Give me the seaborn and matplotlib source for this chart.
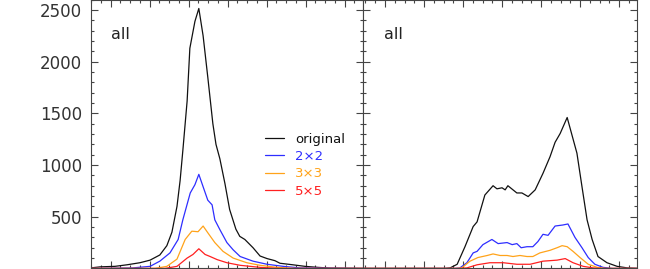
import numpy as np
import pandas as pd
import matplotlib
matplotlib.use("Agg")
import matplotlib.pyplot as plt
from matplotlib.ticker import MultipleLocator
import seaborn as sns

# series names and colours
labels = ["original", "2\u00d72", "3\u00d73", "5\u00d75"]
colors = ["#111111", "#2e2eff", "#ffa31a", "#ff2020"]

# ---------------- left panel ----------------
left_xlim = (-0.505, 6.47)

l_orig_x = [-0.505, -0.27, 0.11, 0.42, 0.75, 1.01, 1.26, 1.44, 1.57, 1.70, 1.78, 1.85, 1.96, 2.03,
            2.16, 2.26, 2.37, 2.49, 2.62, 2.70, 2.80, 2.93, 3.05, 3.21, 3.31, 3.44, 3.65, 3.83,
            4.01, 4.21, 4.34, 4.67, 4.98, 5.32, 5.63, 6.47]
l_orig_y = [5, 15, 20, 35, 55, 80, 130, 220, 350, 600, 850, 1140, 1620, 2130,
            2390, 2515, 2250, 1850, 1400, 1200, 1060, 820, 570, 380, 310, 280, 200, 120,
            95, 75, 50, 35, 20, 10, 3, 0]

l_2x2_x = [-0.505, 0.57, 1.01, 1.26, 1.52, 1.73, 1.85, 2.04, 2.16, 2.26, 2.37, 2.49, 2.60, 2.67,
           2.80, 2.98, 3.14, 3.32, 3.65, 4.01, 4.42, 4.85, 6.47]
l_2x2_y = [0, 5, 20, 70, 150, 280, 470, 730, 810, 910, 790, 660, 615, 470,
           375, 250, 180, 115, 70, 40, 20, 5, 0]

l_3x3_x = [-0.505, 1.14, 1.44, 1.70, 1.91, 2.08, 2.24, 2.37, 2.49, 2.67, 2.88, 3.14, 3.49, 3.83,
           4.27, 4.73, 6.47]
l_3x3_y = [0, 0, 20, 90, 280, 360, 355, 410, 345, 250, 165, 100, 55, 30,
           10, 0, 0]

l_5x5_x = [-0.505, 1.39, 1.70, 1.96, 2.11, 2.26, 2.42, 2.55, 2.73, 2.98, 3.32, 3.83, 4.34, 6.47]
l_5x5_y = [0, 0, 20, 100, 135, 190, 135, 115, 85, 55, 30, 10, 0, 0]

# ---------------- right panel ----------------
right_xlim = (-0.564, 6.46)

r_orig_x = [-0.564, 1.54, 1.67, 1.85, 2.05, 2.26, 2.36, 2.56, 2.77, 2.87, 3.00, 3.08, 3.15, 3.38,
            3.51, 3.67, 3.85, 4.05, 4.23, 4.36, 4.49, 4.67, 4.92, 5.05, 5.18, 5.31, 5.46, 5.69,
            5.95, 6.21, 6.46]
r_orig_y = [0, 0, 5, 40, 210, 405, 450, 710, 800, 770, 780, 760, 800, 730,
            730, 695, 760, 920, 1080, 1220, 1305, 1460, 1115, 790, 470, 280, 115, 55,
            20, 5, 0]

r_2x2_x = [-0.564, 1.79, 1.92, 2.10, 2.26, 2.36, 2.51, 2.74, 2.90, 3.13, 3.26, 3.38, 3.49, 3.64,
           3.79, 3.92, 4.05, 4.18, 4.36, 4.56, 4.69, 4.87, 5.05, 5.21, 5.38, 5.59, 5.82, 6.46]
r_2x2_y = [0, 0, 5, 55, 150, 165, 230, 280, 240, 250, 230, 240, 200, 210,
           210, 260, 330, 320, 410, 420, 430, 300, 200, 105, 40, 10, 0, 0]

r_3x3_x = [-0.564, 1.85, 1.97, 2.18, 2.38, 2.62, 2.77, 2.95, 3.13, 3.28, 3.46, 3.64, 3.79, 3.97,
           4.23, 4.41, 4.54, 4.67, 4.82, 5.00, 5.21, 5.44, 5.64, 6.46]
r_3x3_y = [0, 0, 5, 70, 105, 125, 140, 125, 125, 115, 125, 115, 115, 150,
           175, 200, 220, 210, 165, 105, 40, 10, 0, 0]

r_5x5_x = [-0.564, 1.92, 2.10, 2.36, 2.69, 3.03, 3.38, 3.72, 4.05, 4.41, 4.62, 4.82, 5.08, 5.33,
           5.51, 6.46]
r_5x5_y = [0, 0, 5, 35, 55, 55, 40, 40, 70, 80, 95, 55, 20, 5,
           0, 0]


def build(xs, ys):
    frames = []
    for lab, x, y in zip(labels, xs, ys):
        frames.append(pd.DataFrame({"x": x, "counts": y, "binning": lab}))
    return pd.concat(frames, ignore_index=True)


left_df = build([l_orig_x, l_2x2_x, l_3x3_x, l_5x5_x], [l_orig_y, l_2x2_y, l_3x3_y, l_5x5_y])
right_df = build([r_orig_x, r_2x2_x, r_3x3_x, r_5x5_x], [r_orig_y, r_2x2_y, r_3x3_y, r_5x5_y])

sns.set_theme(style="ticks")
plt.rcParams["font.family"] = ["DejaVu Sans"]

fig = plt.figure(figsize=(6.5, 2.69), dpi=100)
ax1 = fig.add_axes([91 / 650, 0.0022, 272 / 650, 0.999])
ax2 = fig.add_axes([363 / 650, 0.0022, 274 / 650, 0.999])

palette = dict(zip(labels, colors))

for ax, df, xlim, show_leg in [(ax1, left_df, left_xlim, True), (ax2, right_df, right_xlim, False)]:
    sns.lineplot(data=df, x="x", y="counts", hue="binning", palette=palette,
                 estimator=None, sort=False, lw=0.9, ax=ax, legend=show_leg)
    ax.set_xlim(*xlim)
    ax.set_ylim(0, 2600)
    ax.set_xlabel("")
    ax.set_ylabel("")
    ax.xaxis.set_major_locator(MultipleLocator(1))
    ax.xaxis.set_minor_locator(MultipleLocator(0.25))
    ax.yaxis.set_major_locator(MultipleLocator(500))
    ax.yaxis.set_minor_locator(MultipleLocator(100))
    ax.tick_params(which="both", direction="in", top=True, bottom=True, left=True, right=True,
                   color="#444444", width=0.8, labelbottom=False, labelcolor="#333333")
    ax.tick_params(which="major", length=5)
    ax.tick_params(which="minor", length=2.5)
    for sp in ax.spines.values():
        sp.set_color("#444444")
        sp.set_linewidth(0.8)
    ax.text(0.075, 0.87, "all", transform=ax.transAxes, fontsize=11.5, color="#222222",
            ha="left", va="center")
    ax.set_facecolor("white")

ax1.set_yticks([500, 1000, 1500, 2000, 2500])
ax1.tick_params(axis="y", which="major", labelsize=12, pad=6.5)
ax2.tick_params(axis="y", labelleft=False)

ax1.legend(frameon=False, labelcolor="linecolor", loc="upper left",
           bbox_to_anchor=(0.64, 0.505), borderpad=0, borderaxespad=0,
           handlelength=1.4, handletextpad=0.9, labelspacing=0.33, fontsize=9.5)

fig.savefig("out.png", dpi=100, facecolor="white")
